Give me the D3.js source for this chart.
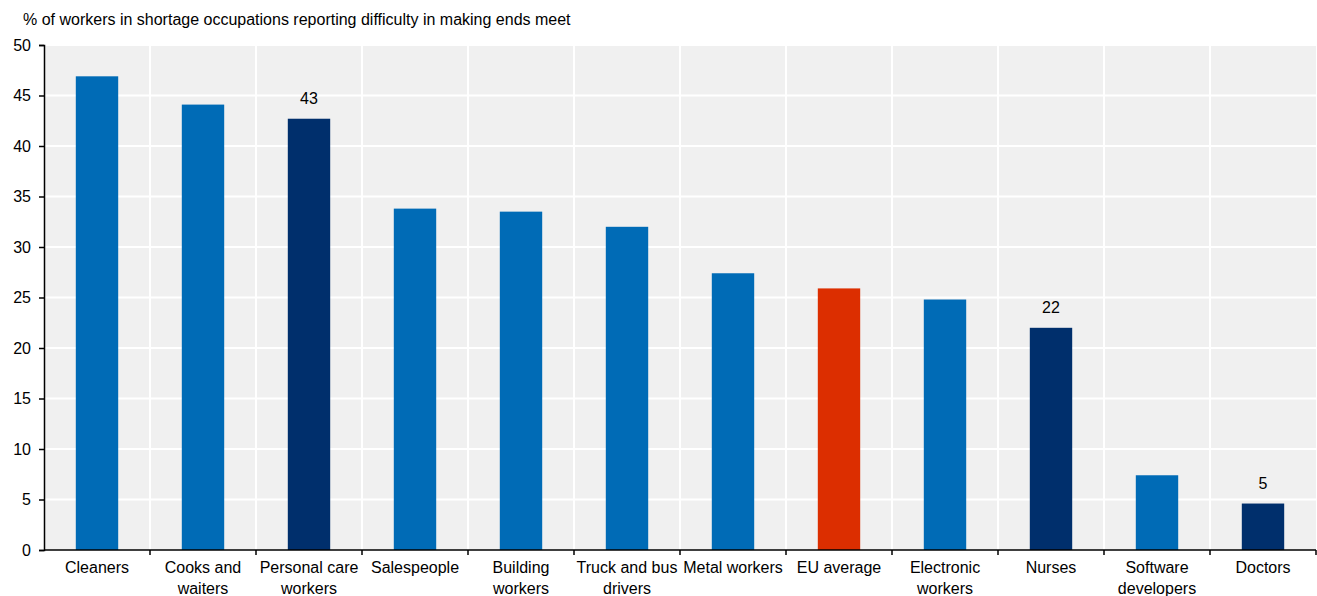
<!DOCTYPE html>
<html><head><meta charset="utf-8">
<script src="https://cdn.jsdelivr.net/npm/d3@7"></script>
<style>
body{margin:0;background:#fff;}
text{font-family:"Liberation Sans Narrow","Arial Narrow","Liberation Sans",Arial,sans-serif;fill:#000;}
</style></head><body>
<svg id="c" width="1317" height="596"></svg>
<script>
const categories = ["Cleaners","Cooks and waiters","Personal care workers","Salespeople","Building workers","Truck and bus drivers","Metal workers","EU average","Electronic workers","Nurses","Software developers","Doctors"];
const labelLines = [["Cleaners"],["Cooks and","waiters"],["Personal care","workers"],["Salespeople"],["Building","workers"],["Truck and bus","drivers"],["Metal workers"],["EU average"],["Electronic","workers"],["Nurses"],["Software","developers"],["Doctors"]];
const values = [46.9, 44.1, 42.7, 33.8, 33.5, 32.0, 27.4, 25.9, 24.8, 22.0, 7.4, 4.6];
const groups = ["base","base","highlight","base","base","base","base","eu","base","highlight","base","highlight"];
const valueLabels = [null,null,"43",null,null,null,null,null,null,"22",null,"5"];
const yTicks = [0,5,10,15,20,25,30,35,40,45,50];
const title = "% of workers in shortage occupations reporting difficulty in making ends meet";

const colors = {base:"#006bb6", highlight:"#002f6c", eu:"#dc2e00"};
const svg = d3.select("#c");
const L = 44, R = 1316, T = 45, B = 550;

const x = d3.scaleBand().domain(categories).range([L,R]).paddingInner(0.6).paddingOuter(0.3);
const y = d3.scaleLinear().domain([0,50]).range([B,T]);

svg.append("rect").attr("x",L).attr("y",T).attr("width",R-L).attr("height",B-T).attr("fill","#f0f0f0");

// horizontal grid
svg.append("g").selectAll("line").data(yTicks.filter(d=>d>0)).join("line")
  .attr("x1",L).attr("x2",R).attr("y1",d=>y(d)).attr("y2",d=>y(d))
  .attr("stroke","#fff").attr("stroke-width",2);
// vertical grid at band boundaries
const step = x.step();
const bounds = categories.map((c,i)=>L+step*(i+1));
svg.append("g").selectAll("line").data(bounds.slice(0,-1)).join("line")
  .attr("x1",d=>d).attr("x2",d=>d).attr("y1",T).attr("y2",B)
  .attr("stroke","#fff").attr("stroke-width",2);

// bars
svg.append("g").selectAll("rect").data(categories).join("rect")
  .attr("x",d=>x(d)).attr("width",x.bandwidth())
  .attr("y",(d,i)=>y(values[i])).attr("height",(d,i)=>B-y(values[i]))
  .attr("fill",(d,i)=>colors[groups[i]]);

// value labels
svg.append("g").selectAll("text").data(categories.filter((d,i)=>valueLabels[i]!==null)).join("text")
  .attr("x",d=>x(d)+x.bandwidth()/2)
  .attr("y",d=>y(values[categories.indexOf(d)])-15)
  .attr("text-anchor","middle").attr("font-size",16)
  .text(d=>valueLabels[categories.indexOf(d)]);

// y axis
const yAxis = d3.axisLeft(y).tickValues(yTicks).tickSize(5).tickPadding(8);
const gy = svg.append("g").attr("transform",`translate(${L},0)`).call(yAxis);
gy.selectAll("text").attr("font-size",16).style("font-family",'"Liberation Sans Narrow","Arial Narrow","Liberation Sans",Arial,sans-serif');
gy.selectAll("path,line").attr("stroke","#000").attr("stroke-width",1.5);

// x axis line and ticks
svg.append("line").attr("x1",L).attr("x2",R).attr("y1",B).attr("y2",B).attr("stroke","#000").attr("stroke-width",1.5);
svg.append("g").selectAll("line").data(bounds).join("line")
  .attr("x1",d=>d).attr("x2",d=>d).attr("y1",B).attr("y2",B+5).attr("stroke","#000").attr("stroke-width",1.5);

// x labels
const xl = svg.append("g").selectAll("text").data(categories).join("text")
  .attr("x",d=>x(d)+x.bandwidth()/2).attr("y",573).attr("text-anchor","middle").attr("font-size",16);
xl.each(function(d,i){
  const t = d3.select(this);
  labelLines[i].forEach((s,j)=>t.append("tspan").attr("x",x(d)+x.bandwidth()/2).attr("dy",j?21:0).text(s));
});

svg.append("text").attr("x",23).attr("y",25).attr("font-size",16).text(title);
</script></body></html>
